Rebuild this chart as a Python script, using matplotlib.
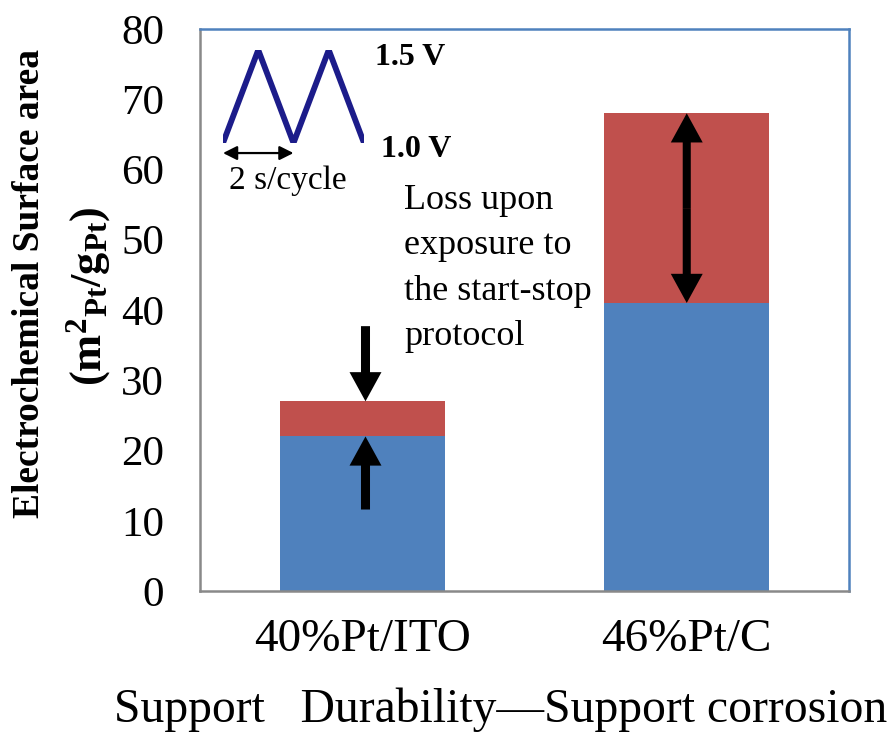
import matplotlib
matplotlib.use("Agg")
import matplotlib.pyplot as plt

# data
categories = ["40%Pt/ITO", "46%Pt/C"]
after_test = [22, 41]      # blue part: ECSA left after start-stop protocol
loss = [5, 27]             # red part: ECSA lost
y_ticks = [0, 10, 20, 30, 40, 50, 60, 70, 80]

# inset: triangle potential cycling, 2 s per cycle between 1.0 and 1.5 V
wave_t = [0, 1, 2, 3, 4]
wave_v = [1.0, 1.5, 1.0, 1.5, 1.0]

blue = "#4F81BD"
red = "#C0504D"
plt.rcParams["font.family"] = ["Liberation Serif", "DejaVu Serif"]
plt.rcParams["mathtext.fontset"] = "custom"
plt.rcParams["mathtext.rm"] = "Liberation Serif:bold"
plt.rcParams["mathtext.it"] = "Liberation Serif:bold"
plt.rcParams["mathtext.bf"] = "Liberation Serif:bold"

fig = plt.figure(figsize=(8.94, 7.35), dpi=100)
ax = fig.add_axes([200 / 894, 144 / 735, 649 / 894, 562 / 735])

x = list(range(len(categories)))
ax.bar(x, after_test, width=0.51, color=blue)
ax.bar(x, loss, width=0.51, bottom=after_test, color=red)

ax.set_xlim(-0.5, 1.5)
ax.set_ylim(0, 80)
ax.set_yticks(y_ticks)
ax.set_xticks(x)
ax.set_xticklabels(categories)
ax.tick_params(axis="y", length=0, pad=26, labelsize=31)
ax.tick_params(axis="x", length=0, pad=20, labelsize=34)

for side in ["left", "bottom"]:
    ax.spines[side].set_color("#898989")
    ax.spines[side].set_linewidth(1.8)
for side in ["top", "right"]:
    ax.spines[side].set_color(blue)
    ax.spines[side].set_linewidth(1.8)

# arrows marking the loss
tops = [a + b for a, b in zip(after_test, loss)]
arrow = dict(width=6.5, headwidth=23, headlength=21, shrink=0,
             facecolor="black", edgecolor="black", lw=0)
ax.annotate("", xy=(x[0] + 0.01, tops[0]), xytext=(x[0] + 0.01, tops[0] + 10.7),
            arrowprops=arrow)
ax.annotate("", xy=(x[0] + 0.01, after_test[0]), xytext=(x[0] + 0.01, after_test[0] - 10.4),
            arrowprops=arrow)
mid = (tops[1] + after_test[1]) / 2
arrow2 = dict(arrow, width=5.8)
ax.annotate("", xy=(x[1], tops[1]), xytext=(x[1], mid), arrowprops=arrow2)
ax.annotate("", xy=(x[1], after_test[1]), xytext=(x[1], mid), arrowprops=arrow2)

ax.text(0.13, 58.0, "Loss upon\nexposure to\nthe start-stop\nprotocol",
        fontsize=26, va="top", ha="left", linespacing=1.5)

# y label in two lines
fig.text(30 / 894, 1 - 283 / 735, "Electrochemical Surface area", rotation=90,
         fontsize=27, fontweight="bold", ha="center", va="center")
fig.text(89 / 894, 1 - 296 / 735, r"$\mathrm{(m^{2}{}_{Pt}/g_{Pt})}$", rotation=90,
         fontsize=32, ha="center", va="center")

fig.text(501 / 894, 13 / 735, "Support   Durability\u2014Support corrosion",
         fontsize=34.3, ha="center", va="baseline")

# inset triangle wave
ins = fig.add_axes([223 / 894, 1 - 143 / 735, 141 / 894, 93 / 735])
ins.plot(wave_t, wave_v, color="#1C1C8A", lw=4.2, solid_joinstyle="miter",
         solid_capstyle="butt")
ins.set_xlim(0, 4)
ins.set_ylim(1.0, 1.5)
ins.axis("off")
ins.annotate("", xy=(0, 0.946), xytext=(2, 0.946), annotation_clip=False,
             arrowprops=dict(arrowstyle="<|-|>,head_length=0.7,head_width=0.35",
                             mutation_scale=12, lw=1.6, color="black",
                             shrinkA=0, shrinkB=0))
ins.text(1.84, 0.755, "2 s/cycle", fontsize=24, ha="center", va="baseline", clip_on=False)
ins.text(4.31, 1.42, "1.5 V", fontsize=23, fontweight="bold", ha="left", va="baseline",
         clip_on=False)
ins.text(4.48, 0.925, "1.0 V", fontsize=23, fontweight="bold", ha="left", va="baseline",
         clip_on=False)

fig.savefig("out.png", dpi=100)
